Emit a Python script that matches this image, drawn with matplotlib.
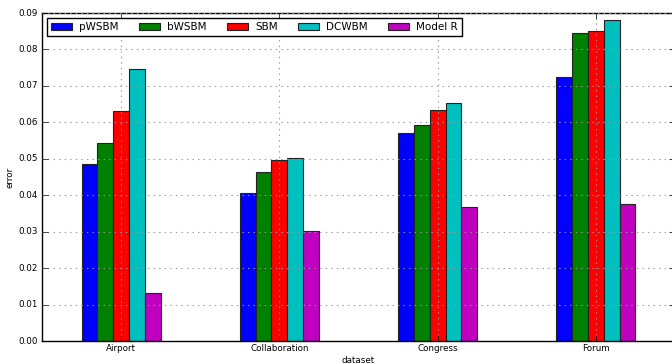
import matplotlib
matplotlib.use("Agg")
import matplotlib.pyplot as plt
import numpy as np

plt.style.use("classic")

datasets = ["Airport", "Collaboration", "Congress", "Forum"]
methods = ["pWSBM", "bWSBM", "SBM", "DCWBM", "Model R"]
colors = ["#0000ff", "#008000", "#ff0000", "#00bfbf", "#bf00bf"]

pwsbm = [0.0486, 0.0406, 0.0570, 0.0725]
bwsbm = [0.0543, 0.0463, 0.0593, 0.0844]
sbm = [0.0631, 0.0497, 0.0634, 0.0851]
dcwbm = [0.0746, 0.0501, 0.0652, 0.0881]
model_r = [0.0131, 0.0302, 0.0368, 0.0376]
values = [pwsbm, bwsbm, sbm, dcwbm, model_r]

fig = plt.figure(figsize=(6.72, 3.64), dpi=100, facecolor="white")
# right edge of the axes falls just outside the figure, as in the reference
ax = fig.add_axes([42 / 672, 23 / 364, 633 / 672, 328 / 364])

x = np.arange(len(datasets))
w = 0.1
for i, (name, vals) in enumerate(zip(methods, values)):
    ax.bar(x + (i - 2) * w, vals, w, color=colors[i], edgecolor="#222222",
           linewidth=0.8, label=name, align="center")

ax.set_xlim(-0.5, 3.5)
ax.set_ylim(0, 0.09)
ax.set_xticks(x)
ax.set_xticklabels(datasets, fontsize=6.3)
yt = np.arange(0, 0.0901, 0.01)
ax.set_yticks(yt)
ax.set_yticklabels(["%.2f" % v for v in yt], fontsize=6.3)
ax.tick_params(axis="x", direction="in", length=4, pad=2.5)
ax.tick_params(axis="y", direction="in", length=4, pad=3)
ax.grid(True, linestyle=":", color="#999999", linewidth=0.8)
ax.set_axisbelow(False)
ax.set_xlabel("dataset", fontsize=6.3, labelpad=2)
ax.set_ylabel("error", fontsize=6.3, labelpad=3)
ax.legend(loc="upper left", ncol=5, fontsize=7.5, handlelength=2.0,
          columnspacing=1.9, borderaxespad=0.45, handletextpad=0.75,
          borderpad=0.4)

fig.savefig("out.png", dpi=100, facecolor="white")
